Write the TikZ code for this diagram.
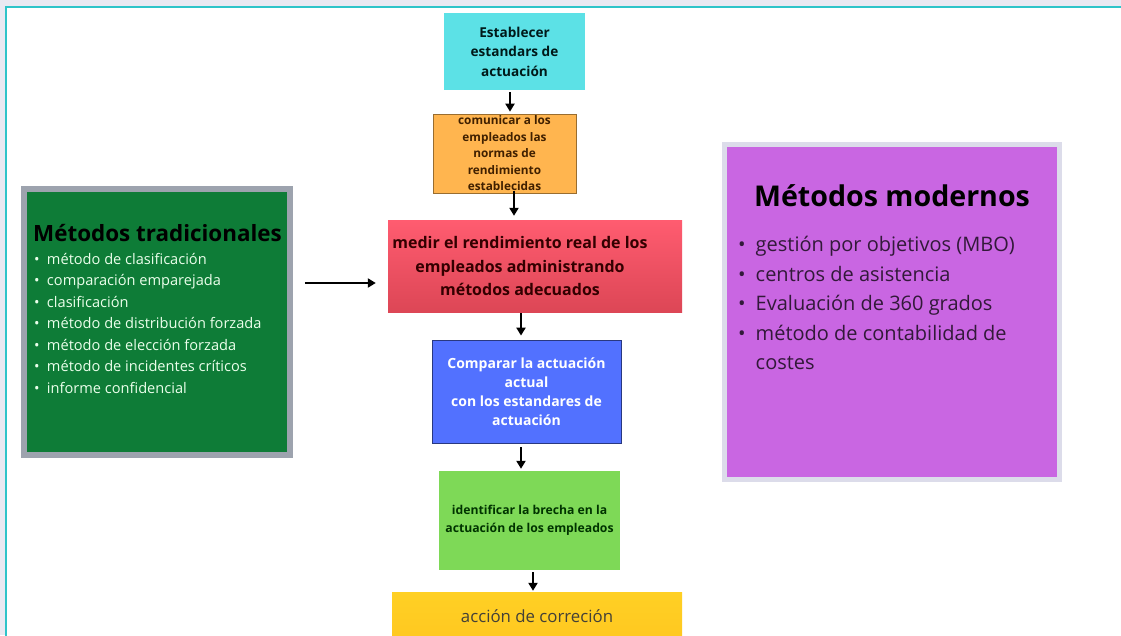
\documentclass[tikz,border=0pt]{standalone}
\usepackage{fontspec}
\setmainfont{Open Sans}
\usepackage{tikz}
\usetikzlibrary{arrows.meta,calc}
\definecolor{frm}{HTML}{2EC4C9}
\definecolor{pag}{HTML}{E9E9F2}
\definecolor{est}{HTML}{5CE1E6}
\definecolor{com}{HTML}{FFB54F}
\definecolor{med}{HTML}{FF5C70}
\definecolor{cmp}{HTML}{5271FF}
\definecolor{idf}{HTML}{7ED957}
\definecolor{acc}{HTML}{FFD024}
\definecolor{trg}{HTML}{0E7C37}
\definecolor{trb}{HTML}{9DA3AE}
\definecolor{mdp}{HTML}{C966E2}
\definecolor{mdb}{HTML}{DCDCEA}

\begin{document}
\begin{tikzpicture}[x=1pt,y=1pt,
    box/.style={rectangle,inner sep=2pt,align=center,font=\bfseries},
    arr/.style={-{Triangle[width=9pt,length=8pt]},line width=2.4pt,black}]
  % page and frame
  \useasboundingbox (0,0) rectangle (1121,-635);
  \fill[pag] (0,0) rectangle (1121,-635);
  \draw[frm,line width=2.5pt,fill=white] (6,-7) rectangle (1135,-650);

  % the steps, top to bottom
  \node[box,fill=est,minimum width=141,minimum height=77,text=black!80!teal,
    font=\fontsize{13.6}{19.5}\selectfont\bfseries] (est) at (514.5,-51.5)
    {Establecer\\estandars de\\actuación};
  \node[box,fill=com,draw=com!60!black,line width=0.6pt,minimum width=143,minimum height=77,
    text=black!75!orange,font=\fontsize{11.8}{16.5}\selectfont\bfseries] (com) at (504.5,-153.5)
    {comunicar a los\\empleados las\\normas de\\rendimiento\\establecidas};
  \node[box,top color=med,bottom color=med!85!black!90!red,minimum width=294,minimum height=92,
    text=black!80!red,font=\fontsize{16}{23.5}\selectfont\bfseries] (med) at (535,-266)
    {\hspace*{-30pt}medir el rendimiento real de los\\\hspace*{-30pt}empleados administrando\\\hspace*{-30pt}métodos adecuados};
  \node[box,fill=cmp,draw=cmp!50!black,line width=0.8pt,minimum width=189,minimum height=103,
    text=white,font=\fontsize{14}{19}\selectfont\bfseries] (comp) at (526.5,-391.5)
    {Comparar la actuación\\actual\\con los estandares de\\actuación};
  \node[box,fill=idf,minimum width=181,minimum height=99,text=black!80!green,
    font=\fontsize{12.2}{18}\selectfont\bfseries] (ident) at (529.5,-520.5)
    {identificar la brecha en la\\actuación de los empleados};
  \node[box,top color=acc,bottom color=acc!90!orange,minimum width=290,minimum height=48,
    text=black!85!yellow,font=\fontsize{16.8}{18}\selectfont] (acc) at (537,-616)
    {acción de correción};

  \draw[arr,shorten <=2pt,shorten >=2pt] ([xshift=-4.5]est.south) -- ([xshift=5.5]com.north);
  \draw[arr,shorten <=-2pt,shorten >=4pt] ([xshift=9.5]com.south) -- ([xshift=-21]med.north);
  \draw[arr,shorten <=1pt,shorten >=4pt] ([xshift=-14]med.south) -- ([xshift=-5.5]comp.north);
  \draw[arr,shorten <=4pt,shorten >=2pt] ([xshift=-5.5]comp.south) -- ([xshift=-8.5]ident.north);
  \draw[arr,shorten <=2pt,shorten >=1pt] ([xshift=3.5]ident.south) -- ([xshift=-4]acc.north);

  % traditional methods, left
  \node[rectangle,fill=trg,draw=trb,line width=5.5pt,minimum width=266,minimum height=266] (trad) at (157,-322) {};
  \node[anchor=west,inner sep=0pt,font=\fontsize{22.4}{26}\selectfont\bfseries] (tradtit) at (33,-233)
    {Métodos tradicionales};
  \node[anchor=north west,inner sep=0pt,align=left,text=green!8!white,
    font=\fontsize{14.6}{21.5}\selectfont] (tradlst) at (34,-253)
    {\textbullet\enspace método de clasificación\\
     \textbullet\enspace comparación emparejada\\
     \textbullet\enspace clasificación\\
     \textbullet\enspace método de distribución forzada\\
     \textbullet\enspace método de elección forzada\\
     \textbullet\enspace método de incidentes críticos\\
     \textbullet\enspace informe confidencial};
  \coordinate (row) at (0,-283);
  \draw[arr,shorten <=12pt,shorten >=12pt] (trad.east |- row) -- (med.west |- row);

  % modern methods, right
  \node[rectangle,fill=mdp,draw=mdb,line width=4.5pt,minimum width=335,minimum height=335] (mod) at (892,-312) {};
  \node[inner sep=0pt,font=\fontsize{28.6}{32}\selectfont\bfseries] (modtit) at (892,-196)
    {Métodos modernos};
  \node[anchor=north west,inner sep=0pt,align=left,text=black!75!mdp,
    font=\fontsize{20}{29.5}\selectfont] (modlst) at (738,-236)
    {\textbullet\enspace gestión por objetivos (MBO)\\
     \textbullet\enspace centros de asistencia\\
     \textbullet\enspace Evaluación de 360 grados\\
     \textbullet\enspace método de contabilidad de\\
     \phantom{\textbullet\enspace}costes};
\end{tikzpicture}
\end{document}
